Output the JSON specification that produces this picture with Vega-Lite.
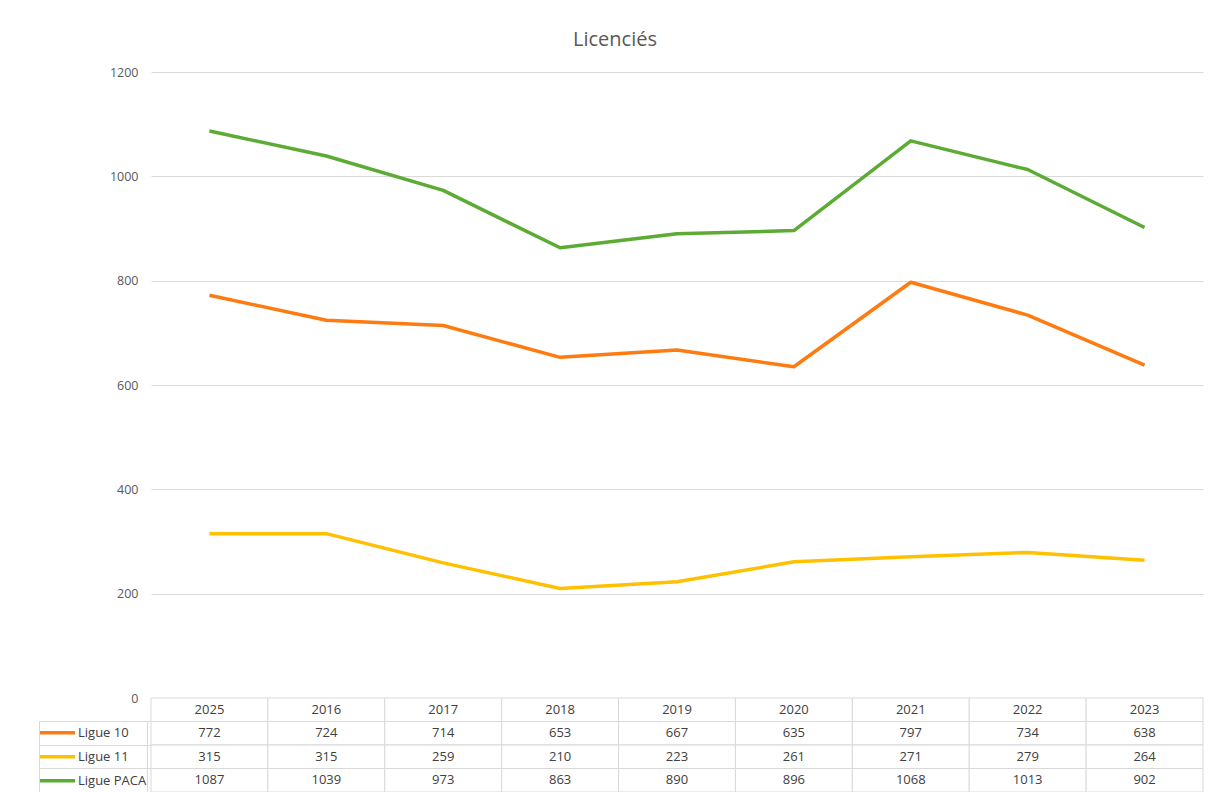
{
  "$schema": "https://vega.github.io/schema/vega-lite/v6.json",
  "background": "white",
  "padding": {"left": 38, "top": 30, "right": 7, "bottom": 0},
  "bounds": "flush",
  "title": {"text": "Licenciés", "fontSize": 20, "font": "Open Sans", "fontWeight": "normal", "color": "#595959", "anchor": "middle", "offset": 16, "dx": -6},
  "config": {
    "font": "Open Sans",
    "view": {"stroke": null},
    "legend": {"labelFont": "Open Sans", "labelFontSize": 13, "labelColor": "#404040"}
  },
  "data": {"values": [
    {"year": "2025", "series": "Ligue 10", "value": 772},
    {"year": "2016", "series": "Ligue 10", "value": 724},
    {"year": "2017", "series": "Ligue 10", "value": 714},
    {"year": "2018", "series": "Ligue 10", "value": 653},
    {"year": "2019", "series": "Ligue 10", "value": 667},
    {"year": "2020", "series": "Ligue 10", "value": 635},
    {"year": "2021", "series": "Ligue 10", "value": 797},
    {"year": "2022", "series": "Ligue 10", "value": 734},
    {"year": "2023", "series": "Ligue 10", "value": 638},
    {"year": "2025", "series": "Ligue 11", "value": 315},
    {"year": "2016", "series": "Ligue 11", "value": 315},
    {"year": "2017", "series": "Ligue 11", "value": 259},
    {"year": "2018", "series": "Ligue 11", "value": 210},
    {"year": "2019", "series": "Ligue 11", "value": 223},
    {"year": "2020", "series": "Ligue 11", "value": 261},
    {"year": "2021", "series": "Ligue 11", "value": 271},
    {"year": "2022", "series": "Ligue 11", "value": 279},
    {"year": "2023", "series": "Ligue 11", "value": 264},
    {"year": "2025", "series": "Ligue PACA", "value": 1087},
    {"year": "2016", "series": "Ligue PACA", "value": 1039},
    {"year": "2017", "series": "Ligue PACA", "value": 973},
    {"year": "2018", "series": "Ligue PACA", "value": 863},
    {"year": "2019", "series": "Ligue PACA", "value": 890},
    {"year": "2020", "series": "Ligue PACA", "value": 896},
    {"year": "2021", "series": "Ligue PACA", "value": 1068},
    {"year": "2022", "series": "Ligue PACA", "value": 1013},
    {"year": "2023", "series": "Ligue PACA", "value": 902}
  ]},
  "spacing": 0,
  "vconcat": [
    {
      "width": 1052,
      "height": 626,
      "mark": {"type": "line", "strokeWidth": 3.5, "strokeJoin": "round"},
      "encoding": {
        "x": {"field": "year", "type": "nominal", "sort": ["2025","2016","2017","2018","2019","2020","2021","2022","2023"], "scale": {"type": "point", "padding": 0.5}, "axis": null},
        "y": {"field": "value", "type": "quantitative", "scale": {"domain": [0, 1200], "nice": false},
              "axis": {"values": [0,200,400,600,800,1000,1200], "format": "d", "title": null, "domain": false, "ticks": false, "labelPadding": 13, "labelFontSize": 12.5, "labelColor": "#595959", "labelFont": "Open Sans", "gridColor": "#d9d9d9", "gridWidth": 1}},
        "color": {"field": "series", "type": "nominal",
                  "scale": {"domain": ["Ligue 10", "Ligue 11", "Ligue PACA"], "range": ["#fe7b12", "#ffc000", "#5bab35"]},
                  "legend": {"orient": "none", "legendX": -112, "legendY": 649, "title": null, "symbolType": "stroke", "symbolSize": 1225, "symbolStrokeWidth": 3.5, "clipHeight": 23.4, "rowPadding": 0, "symbolOffset": -1, "labelOffset": 1, "strokeColor": "#d9d9d9", "padding": 0}}
      }
    },
    {
      "width": 1052,
      "height": 94,
      "encoding": {
        "x": {"field": "year", "type": "nominal", "sort": ["2025","2016","2017","2018","2019","2020","2021","2022","2023"], "scale": {"type": "band", "paddingInner": 0, "paddingOuter": 0}, "axis": null},
        "y": {"field": "series", "type": "nominal", "scale": {"domain": ["header", "Ligue 10", "Ligue 11", "Ligue PACA"], "paddingInner": 0, "paddingOuter": 0},
              "axis": {"values": ["Ligue 10", "Ligue 11", "Ligue PACA"], "bandPosition": 0, "tickSize": 112, "tickColor": "#d9d9d9", "labels": false, "domain": false, "title": null}}
      },
      "layer": [
        {"mark": {"type": "rect", "fill": "white", "stroke": "#d9d9d9", "strokeWidth": 1}},
        {"transform": [{"filter": "datum.series === 'Ligue 10'"}],
         "mark": {"type": "rect", "fill": "white", "stroke": "#d9d9d9", "strokeWidth": 1},
         "encoding": {"y": {"datum": "header"}}},
        {"mark": {"type": "text", "fontSize": 13, "color": "#404040", "font": "Open Sans"},
         "encoding": {"text": {"field": "value", "type": "quantitative", "format": "d"}}},
        {"transform": [{"filter": "datum.series === 'Ligue 10'"}],
         "mark": {"type": "text", "fontSize": 13, "color": "#404040", "font": "Open Sans"},
         "encoding": {"y": {"datum": "header"}, "text": {"field": "year"}}}
      ]
    }
  ]
}
